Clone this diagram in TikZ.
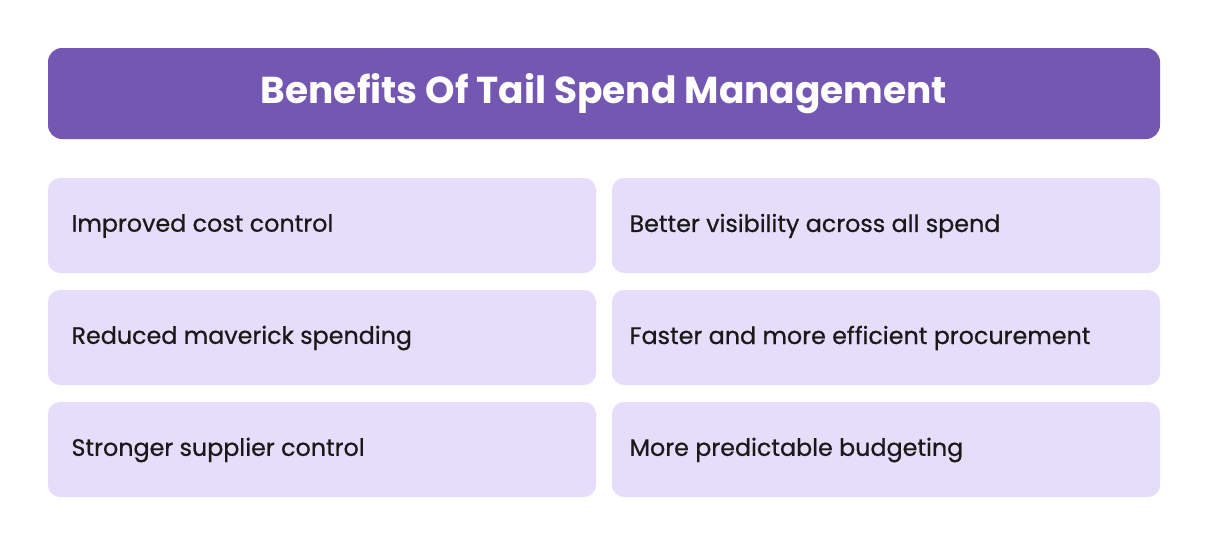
\documentclass[tikz,border=0pt]{standalone}
\usepackage{fontspec}
\setmainfont{Poppins}
\newfontfamily\cellfont[FakeBold=0.6]{Poppins}
\begin{document}
\begin{tikzpicture}[x=1pt,y=-1pt,
  cell/.style={fill=cellfill,rounded corners=12pt},
  celltext/.style={anchor=west,font=\cellfont\fontsize{23.8}{28}\selectfont,text=black!90}]
\definecolor{headfill}{HTML}{7457B2}
\definecolor{cellfill}{HTML}{E6DDFB}
\useasboundingbox (0,0) rectangle (1208,546);
\fill[white] (0,0) rectangle (1208,546);
\fill[headfill,rounded corners=14pt] (48,48) rectangle (1160,139);
\node[font=\bfseries\fontsize{37.5}{44}\selectfont,text=white] (title) at (604,94) {Benefits Of Tail Spend Management};
\foreach \y/\l/\r [count=\i] in {178/Improved cost control/Better visibility across all spend,
  290/Reduced maverick spending/Faster and more efficient procurement,
  402/Stronger supplier control/More predictable budgeting}{
  \fill[cell] (48,\y) rectangle (596,\y+95);
  \fill[cell] (612,\y) rectangle (1160,\y+95);
  \node[celltext] (l\i) at (68,\y+48) {\l};
  \node[celltext] (r\i) at (626,\y+48) {\r};
}
\end{tikzpicture}
\end{document}
